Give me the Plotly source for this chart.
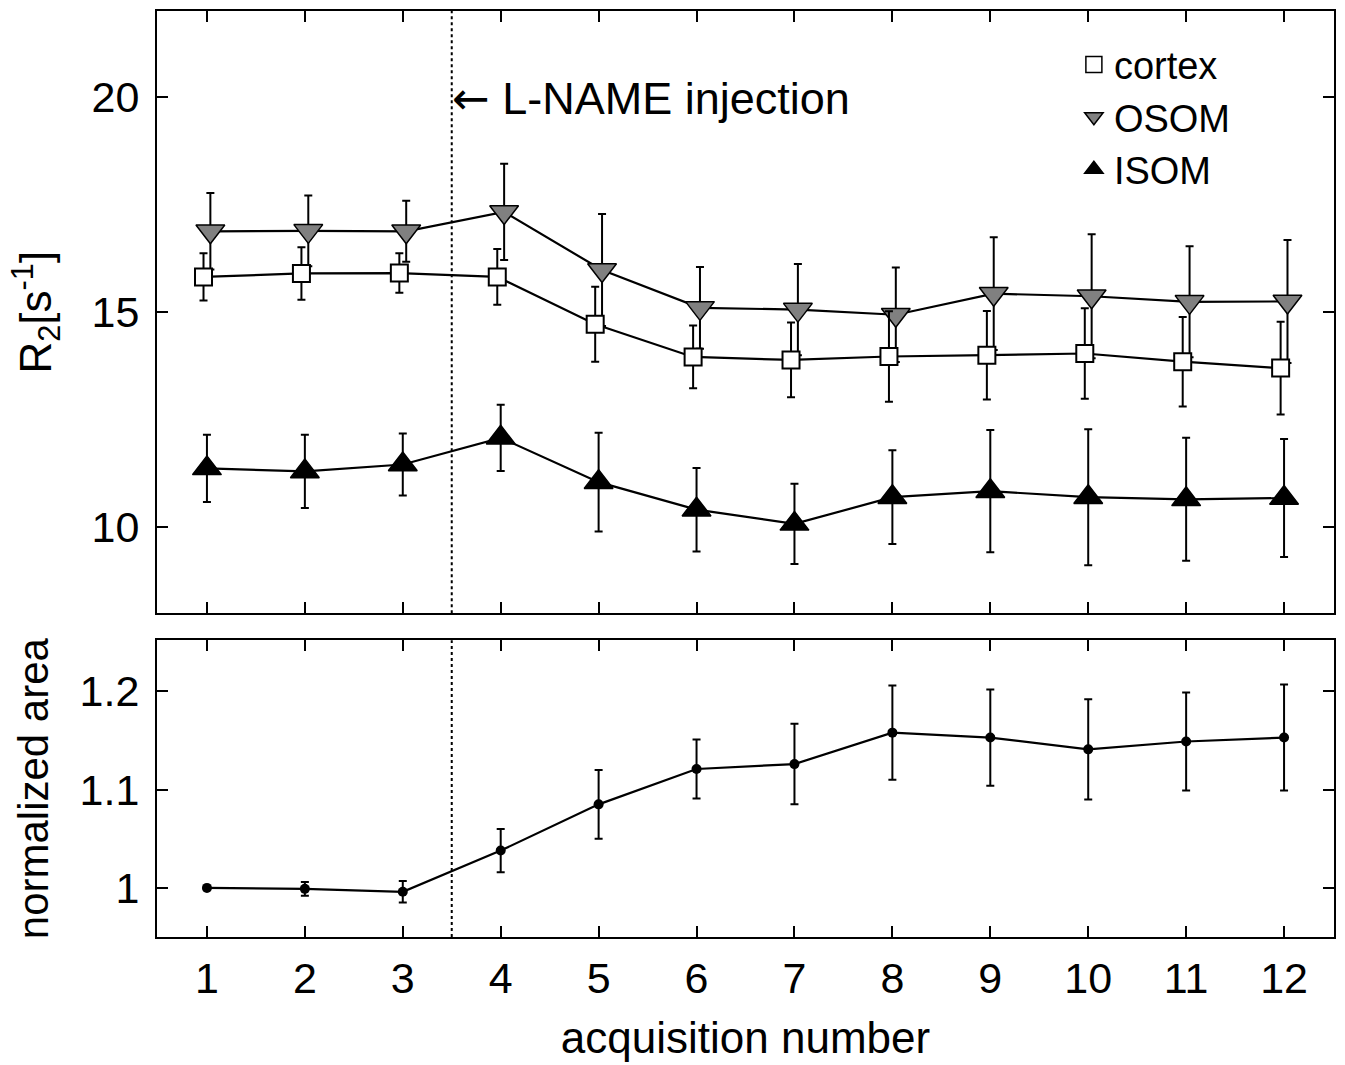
import plotly.graph_objects as go

acq = [1, 2, 3, 4, 5, 6, 7, 8, 9, 10, 11, 12]

cortex = [15.82, 15.90, 15.91, 15.82, 14.72, 13.96, 13.89, 13.97, 14.00, 14.04, 13.85, 13.70]
cortex_err = [0.55, 0.61, 0.46, 0.65, 0.87, 0.73, 0.87, 1.05, 1.03, 1.05, 1.04, 1.08]
osom = [16.88, 16.89, 16.88, 17.33, 15.98, 15.10, 15.06, 14.94, 15.43, 15.37, 15.24, 15.25]
osom_err = [0.89, 0.82, 0.71, 1.12, 1.30, 0.95, 1.06, 1.10, 1.31, 1.44, 1.29, 1.43]
isom = [11.37, 11.30, 11.46, 12.08, 11.05, 10.41, 10.08, 10.70, 10.84, 10.70, 10.65, 10.68]
isom_err = [0.78, 0.85, 0.72, 0.77, 1.15, 0.97, 0.93, 1.09, 1.42, 1.58, 1.43, 1.37]

area = [1.000, 0.999, 0.996, 1.038, 1.085, 1.121, 1.126, 1.158, 1.153, 1.141, 1.149, 1.153]
area_err = [0.0, 0.007, 0.011, 0.022, 0.035, 0.030, 0.041, 0.048, 0.049, 0.051, 0.050, 0.054]

x_ticks = [1, 2, 3, 4, 5, 6, 7, 8, 9, 10, 11, 12]
y_top_ticks = [10, 15, 20]
y_bot_ticks = [1.0, 1.1, 1.2]
y_bot_ticktext = ["1", "1.1", "1.2"]
injection_x = 3.5

FONT = "Liberation Sans, Arial, Helvetica, sans-serif"
BLACK = "#000000"
GRAY = "#808080"

fig = go.Figure()

def err(vals):
    return dict(type="data", array=vals, visible=True, color=BLACK, thickness=2, width=4)

# ISOM
fig.add_trace(go.Scatter(
    x=acq, y=isom, mode="lines+markers", xaxis="x", yaxis="y",
    line=dict(color=BLACK, width=2.2),
    marker=dict(symbol="triangle-up", size=25, color=BLACK, line=dict(color=BLACK, width=1.5)),
    error_y=err(isom_err), showlegend=False))
# OSOM (slightly offset right)
fig.add_trace(go.Scatter(
    x=[a + 0.035 for a in acq], y=osom, mode="lines+markers", xaxis="x", yaxis="y",
    line=dict(color=BLACK, width=2.2),
    marker=dict(symbol="triangle-down", size=25, color=GRAY, line=dict(color=BLACK, width=1.5)),
    error_y=err(osom_err), showlegend=False))
# cortex (slightly offset left)
fig.add_trace(go.Scatter(
    x=[a - 0.035 for a in acq], y=cortex, mode="lines+markers", xaxis="x", yaxis="y",
    line=dict(color=BLACK, width=2.2),
    marker=dict(symbol="square", size=17, color="#ffffff", line=dict(color=BLACK, width=2)),
    error_y=err(cortex_err), showlegend=False))

# legend-only entries (markers only)
fig.add_trace(go.Scatter(x=[None], y=[None], mode="markers", name="cortex", xaxis="x", yaxis="y",
                         marker=dict(symbol="square", size=16, color="#ffffff", line=dict(color=BLACK, width=1.5))))
fig.add_trace(go.Scatter(x=[None], y=[None], mode="markers", name="OSOM", xaxis="x", yaxis="y",
                         marker=dict(symbol="triangle-down", size=16, color=GRAY, line=dict(color=BLACK, width=1.5))))
fig.add_trace(go.Scatter(x=[None], y=[None], mode="markers", name="ISOM", xaxis="x", yaxis="y",
                         marker=dict(symbol="triangle-up", size=16, color=BLACK, line=dict(color=BLACK, width=1.5))))

# normalized area
fig.add_trace(go.Scatter(
    x=acq, y=area, mode="lines+markers", xaxis="x2", yaxis="y2",
    line=dict(color=BLACK, width=2.2),
    marker=dict(symbol="circle", size=10, color=BLACK),
    error_y=err(area_err), showlegend=False))

axis_common = dict(showline=True, linecolor=BLACK, linewidth=2, mirror="ticks",
                   ticks="inside", ticklen=11, tickwidth=2, tickcolor=BLACK,
                   showgrid=False, zeroline=False,
                   tickfont=dict(family=FONT, size=43, color=BLACK))

fig.update_layout(
    width=1345, height=1065,
    margin=dict(l=157, r=9, t=10, b=128),
    paper_bgcolor="white", plot_bgcolor="white",
    font=dict(family=FONT, color=BLACK),
    xaxis=dict(domain=[0, 1], range=[0.49, 12.51], anchor="y", tickvals=x_ticks,
               showticklabels=False, **axis_common),
    yaxis=dict(domain=[0.3495, 1], range=[8.0, 22.0], anchor="x", tickvals=y_top_ticks,
               ticklabelstandoff=7,
               title=dict(text="R<sub>2</sub>[s<sup>-1</sup>]", font=dict(family=FONT, size=44, color=BLACK),
                          standoff=26),
               **axis_common),
    xaxis2=dict(domain=[0, 1], range=[0.49, 12.51], anchor="y2", tickvals=x_ticks,
                ticklabelstandoff=2,
                title=dict(text="acquisition number", font=dict(family=FONT, size=44, color=BLACK),
                           standoff=22),
                **axis_common),
    yaxis2=dict(domain=[0, 0.3204], range=[0.950, 1.252], anchor="x2", tickvals=y_bot_ticks,
                ticktext=y_bot_ticktext, ticklabelstandoff=7,
                title=dict(text="normalized area", font=dict(family=FONT, size=42, color=BLACK),
                           standoff=18),
                **axis_common),
    legend=dict(x=0.779, y=0.976, xanchor="left", yanchor="top",
                bgcolor="rgba(0,0,0,0)", borderwidth=0,
                font=dict(family=FONT, size=38, color=BLACK),
                itemsizing="trace"),
    shapes=[
        dict(type="line", xref="x", yref="y domain", x0=injection_x, x1=injection_x, y0=0, y1=1,
             line=dict(color=BLACK, width=2, dash="dot")),
        dict(type="line", xref="x2", yref="y2 domain", x0=injection_x, x1=injection_x, y0=0, y1=1,
             line=dict(color=BLACK, width=2, dash="dot")),
    ],
    annotations=[
        dict(text="<span style='font-family:DejaVu Sans'>\u2190</span> L-NAME injection",
             x=injection_x, y=19.97, xref="x", yref="y",
             xanchor="left", yanchor="middle", showarrow=False, xshift=-2,
             font=dict(family=FONT, size=45, color=BLACK)),
    ],
)

fig.write_html("out.html", config={"displayModeBar": False},
               post_script="document.body.style.margin='0';document.body.style.padding='0';")
